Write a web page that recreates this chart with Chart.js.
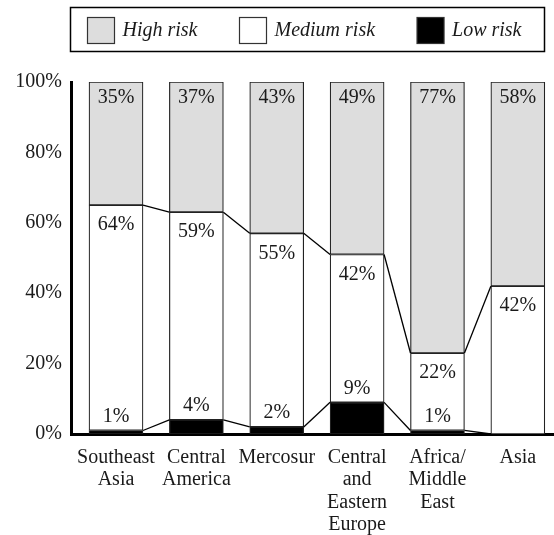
<!DOCTYPE html>
<html>
<head>
<meta charset="utf-8">
<script src="https://cdn.jsdelivr.net/npm/chart.js@4"></script>
<style>
  html, body { margin: 0; padding: 0; background: #fff; overflow: hidden; }
  #wrap { width: 554px; height: 535px; position: relative; }
</style>
</head>
<body>
<div id="wrap"><canvas id="c"></canvas></div>
<script>
// Regions (multi-line axis labels)
const regions = [
  ['Southeast', 'Asia'],
  ['Central', 'America'],
  ['Mercosur'],
  ['Central', 'and', 'Eastern', 'Europe'],
  ['Africa/', 'Middle', 'East'],
  ['Asia']
];

// Share of each risk level per region (%)
const lowRisk    = [1, 4, 2, 9, 1, 0];
const mediumRisk = [64, 59, 55, 42, 22, 42];
const highRisk   = [35, 37, 43, 49, 77, 58];

const seriesNames = ['Low risk', 'Medium risk', 'High risk'];
const yTickStep = 20;

const FONT = "'Liberation Serif', 'Times New Roman', serif";
const TEXT = '#1a1a1a';
const fills = ['#000000', '#ffffff', '#dddddd'];
const series = [lowRisk, mediumRisk, highRisk];

Chart.defaults.font.family = FONT;
Chart.defaults.font.size = 20;
Chart.defaults.color = TEXT;

// Boxed legend across the top
const boxedLegend = {
  id: 'boxedLegend',
  afterDraw(chart) {
    const ctx = chart.ctx;
    const box = { x: 70.5, y: 7.5, w: 474, h: 44 };
    ctx.save();
    ctx.strokeStyle = '#000';
    ctx.lineWidth = 1.5;
    ctx.strokeRect(box.x, box.y, box.w, box.h);

    ctx.font = 'italic 20px ' + FONT;
    ctx.textBaseline = 'middle';
    const sw = 27, sh = 26, gapText = 8, gapItem = 42;
    const order = [2, 1, 0];
    const widths = order.map(s => ctx.measureText(seriesNames[s]).width);
    const total = widths.reduce((a, w) => a + sw + gapText + w, 0) + gapItem * (order.length - 1);
    let x = box.x + box.w / 2 - total / 2 - 3;
    const cy = box.y + box.h / 2 + 1;
    order.forEach((s, k) => {
      ctx.fillStyle = fills[s];
      ctx.fillRect(x, cy - sh / 2, sw, sh);
      ctx.strokeStyle = '#333';
      ctx.lineWidth = 1.2;
      ctx.strokeRect(x, cy - sh / 2, sw, sh);
      ctx.fillStyle = TEXT;
      ctx.textAlign = 'left';
      ctx.fillText(seriesNames[s], x + sw + gapText, cy);
      x += sw + gapText + widths[k] + gapItem;
    });
    ctx.restore();
  }
};

// Series lines joining segment tops, plus value labels
const barExtras = {
  id: 'barExtras',
  afterDatasetsDraw(chart) {
    const ctx = chart.ctx;
    const metas = [0, 1, 2].map(d => chart.getDatasetMeta(d));
    ctx.save();

    // connector lines between neighbouring bars (top of low and top of medium)
    ctx.strokeStyle = '#000';
    ctx.lineWidth = 1.3;
    [0, 1].forEach(s => {
      const els = metas[s].data;
      for (let i = 0; i < els.length - 1; i++) {
        const a = els[i].getProps(['x', 'y', 'width'], true);
        const b = els[i + 1].getProps(['x', 'y', 'width'], true);
        ctx.beginPath();
        ctx.moveTo(a.x + a.width / 2, a.y);
        ctx.lineTo(b.x - b.width / 2, b.y);
        ctx.stroke();
      }
    });

    // value labels
    ctx.font = '20px ' + FONT;
    ctx.fillStyle = TEXT;
    ctx.textAlign = 'center';
    ctx.textBaseline = 'middle';
    const offsets = [-14, 20, 16];
    series.forEach((vals, s) => {
      metas[s].data.forEach((el, i) => {
        if (!vals[i]) return;
        const p = el.getProps(['x', 'y'], true);
        ctx.fillText(vals[i] + '%', p.x, p.y + offsets[s]);
      });
    });
    ctx.restore();
  }
};

new Chart(document.getElementById('c'), {
  type: 'bar',
  data: {
    datasets: series.map((vals, s) => ({
      label: seriesNames[s],
      data: vals.map((v, i) => ({ x: i, y: v })),
      backgroundColor: fills[s],
      borderColor: '#222',
      borderWidth: 1.2,
      borderSkipped: false,
      barThickness: 54,
      stack: 'risk'
    }))
  },
  options: {
    responsive: true,
    maintainAspectRatio: false,
    animation: false,
    layout: { padding: { top: 82, left: 0, right: 0, bottom: 0 } },
    plugins: {
      legend: { display: false },
      tooltip: { enabled: false }
    },
    scales: {
      x: {
        type: 'linear',
        stacked: true,
        offset: false,
        min: -0.56,
        max: 5.45,
        afterBuildTicks: s => { s.ticks = regions.map((_, i) => ({ value: i })); },
        afterFit: s => { s.height = 101; },
        grid: { display: false, drawTicks: false },
        border: { color: '#000', width: 3 },
        ticks: {
          autoSkip: false,
          maxRotation: 0,
          padding: 12,
          font: { size: 20, lineHeight: 1.13 },
          callback: v => regions[v]
        }
      },
      y: {
        stacked: true,
        min: 0,
        max: 100,
        afterFit: s => { s.width = 71; },
        grid: { display: false, drawTicks: false },
        border: { color: '#000', width: 3 },
        ticks: {
          stepSize: yTickStep,
          padding: 9,
          font: { size: 20 },
          callback: v => v + '%'
        }
      }
    }
  },
  plugins: [barExtras, boxedLegend]
});
</script>
</body>
</html>
